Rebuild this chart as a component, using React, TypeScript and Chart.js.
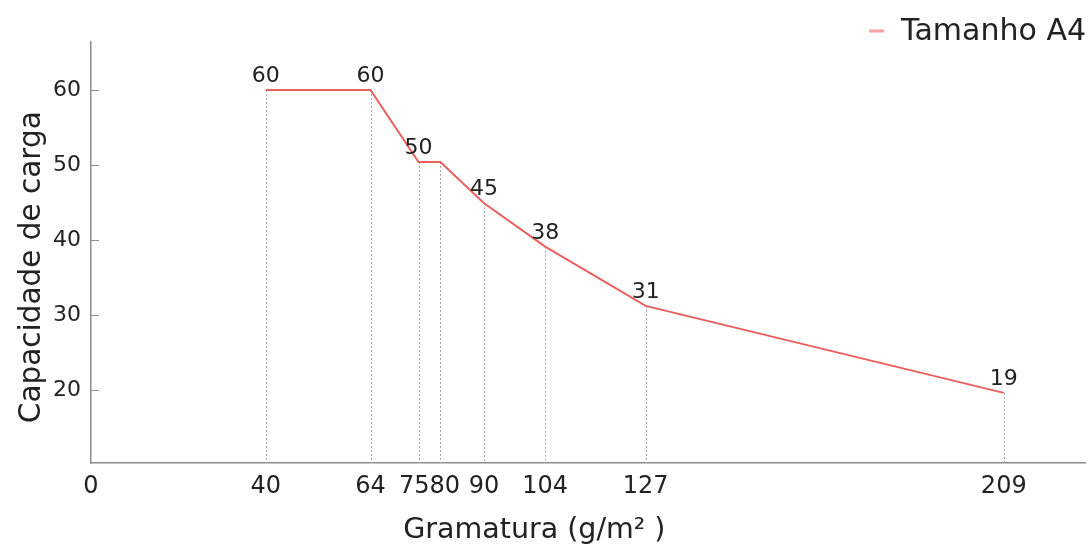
import React, { useEffect, useRef } from 'react';
import { Chart, registerables } from 'chart.js';

Chart.register(...registerables);

const gramatura = [40, 64, 75, 80, 90, 104, 127, 209];
const capacidade = [60, 60, 50.4, 50.4, 44.9, 39.1, 31.2, 19.6];
const pointLabels = ['60', '60', '50', '', '45', '38', '31', '19'];
const xTicks = [0, 40, 64, 75, 80, 90, 104, 127, 209];
const yTicks = [20, 30, 40, 50, 60];
const seriesName = 'Tamanho A4';
const xTitle = 'Gramatura (g/m² )';
const yTitle = 'Capacidade de carga';

const FONT = '"DejaVu Sans", "Open Sans", sans-serif';
const LINE_COLOR = '#e9615f';
const LEGEND_COLOR = '#f5a3a2';
const AXIS_COLOR = '#8c8c8c';
const TEXT_COLOR = '#222222';

const overlay = {
  id: 'overlay',
  beforeDatasetsDraw(chart: any) {
    const ctx = chart.ctx;
    const xs = chart.scales.x;
    const ys = chart.scales.y;
    ctx.save();
    ctx.setLineDash([2, 2]);
    ctx.strokeStyle = '#a8a8a8';
    ctx.lineWidth = 1;
    gramatura.forEach((g, i) => {
      const px = Math.round(xs.getPixelForValue(g)) + 0.5;
      ctx.beginPath();
      ctx.moveTo(px, ys.getPixelForValue(capacidade[i]));
      ctx.lineTo(px, chart.chartArea.bottom);
      ctx.stroke();
    });
    ctx.restore();
  },
  afterDraw(chart: any) {
    const ctx = chart.ctx;
    const xs = chart.scales.x;
    const ys = chart.scales.y;
    const area = chart.chartArea;
    ctx.save();
    // inward y ticks
    ctx.strokeStyle = AXIS_COLOR;
    ctx.lineWidth = 1;
    yTicks.forEach((v) => {
      const py = Math.round(ys.getPixelForValue(v)) + 0.5;
      ctx.beginPath();
      ctx.moveTo(area.left, py);
      ctx.lineTo(area.left + 8, py);
      ctx.stroke();
    });
    // x tick labels, nudged apart where neighbours collide
    ctx.fillStyle = TEXT_COLOR;
    ctx.font = `24px ${FONT}`;
    ctx.textAlign = 'center';
    ctx.textBaseline = 'alphabetic';
    const items = xTicks.map((v) => {
      const text = String(v);
      return { text, c: xs.getPixelForValue(v), w: ctx.measureText(text).width };
    });
    for (let i = 1; i < items.length; i++) {
      const a = items[i - 1];
      const b = items[i];
      const overlap = a.c + a.w / 2 - (b.c - b.w / 2);
      if (overlap > 0) {
        a.c -= overlap / 2;
        b.c += overlap / 2;
      }
    }
    items.forEach((it) => ctx.fillText(it.text, it.c, area.bottom + 30));
    // data labels
    ctx.font = `22px ${FONT}`;
    gramatura.forEach((g, i) => {
      if (!pointLabels[i]) return;
      ctx.fillText(pointLabels[i], xs.getPixelForValue(g), ys.getPixelForValue(capacidade[i]) - 8);
    });
    // x title
    ctx.font = `28.5px ${FONT}`;
    ctx.fillText(xTitle, area.left + area.width * 0.446, chart.height - 12);
    // y title
    ctx.save();
    ctx.font = `29.5px ${FONT}`;
    ctx.translate(32, area.top + area.height * 0.535);
    ctx.rotate(-Math.PI / 2);
    ctx.textBaseline = 'middle';
    ctx.fillText(yTitle, 0, 0);
    ctx.restore();
    // legend
    ctx.font = `30px ${FONT}`;
    ctx.textAlign = 'right';
    ctx.textBaseline = 'alphabetic';
    const right = chart.width - 6;
    const w = ctx.measureText(seriesName).width;
    ctx.fillText(seriesName, right, 40);
    const left = right - w;
    ctx.strokeStyle = LEGEND_COLOR;
    ctx.lineWidth = 3;
    ctx.beginPath();
    ctx.moveTo(left - 32, 31);
    ctx.lineTo(left - 17, 31);
    ctx.stroke();
    ctx.restore();
  },
};

export default function App() {
  const ref = useRef<HTMLCanvasElement | null>(null);
  useEffect(() => {
    if (!ref.current) return;
    const chart = new Chart(ref.current, {
      type: 'line',
      data: {
        datasets: [
          {
            label: seriesName,
            data: gramatura.map((g, i) => ({ x: g, y: capacidade[i] })),
            borderColor: LINE_COLOR,
            backgroundColor: LINE_COLOR,
            borderWidth: 2,
            pointRadius: 0,
            tension: 0,
          },
        ],
      },
      options: {
        animation: false,
        responsive: true,
        maintainAspectRatio: false,
        layout: { padding: { top: 42, right: 7, left: 0, bottom: 0 } },
        plugins: {
          legend: { display: false },
          tooltip: { enabled: false },
        },
        scales: {
          x: {
            type: 'linear',
            min: 0,
            max: 227.6,
            grid: { display: false },
            border: { display: true, color: AXIS_COLOR, width: 1.5 },
            afterBuildTicks: (s: any) => {
              s.ticks = xTicks.map((v) => ({ value: v }));
            },
            afterFit: (s: any) => {
              s.height = 87;
            },
            ticks: { display: false },
          },
          y: {
            type: 'linear',
            min: 10.25,
            max: 66.4,
            grid: { display: false },
            border: { display: true, color: AXIS_COLOR, width: 1.5 },
            afterBuildTicks: (s: any) => {
              s.ticks = yTicks.map((v) => ({ value: v }));
            },
            afterFit: (s: any) => {
              s.width = 91;
            },
            ticks: {
              padding: 2,
              color: TEXT_COLOR,
              font: { family: FONT, size: 22 },
            },
          },
        },
      },
      plugins: [overlay],
    } as any);
    return () => chart.destroy();
  }, []);
  return (
    <div style={{ position: 'fixed', left: 0, top: 0, width: 1092, height: 550 }}>
      <canvas ref={ref} />
    </div>
  );
}
